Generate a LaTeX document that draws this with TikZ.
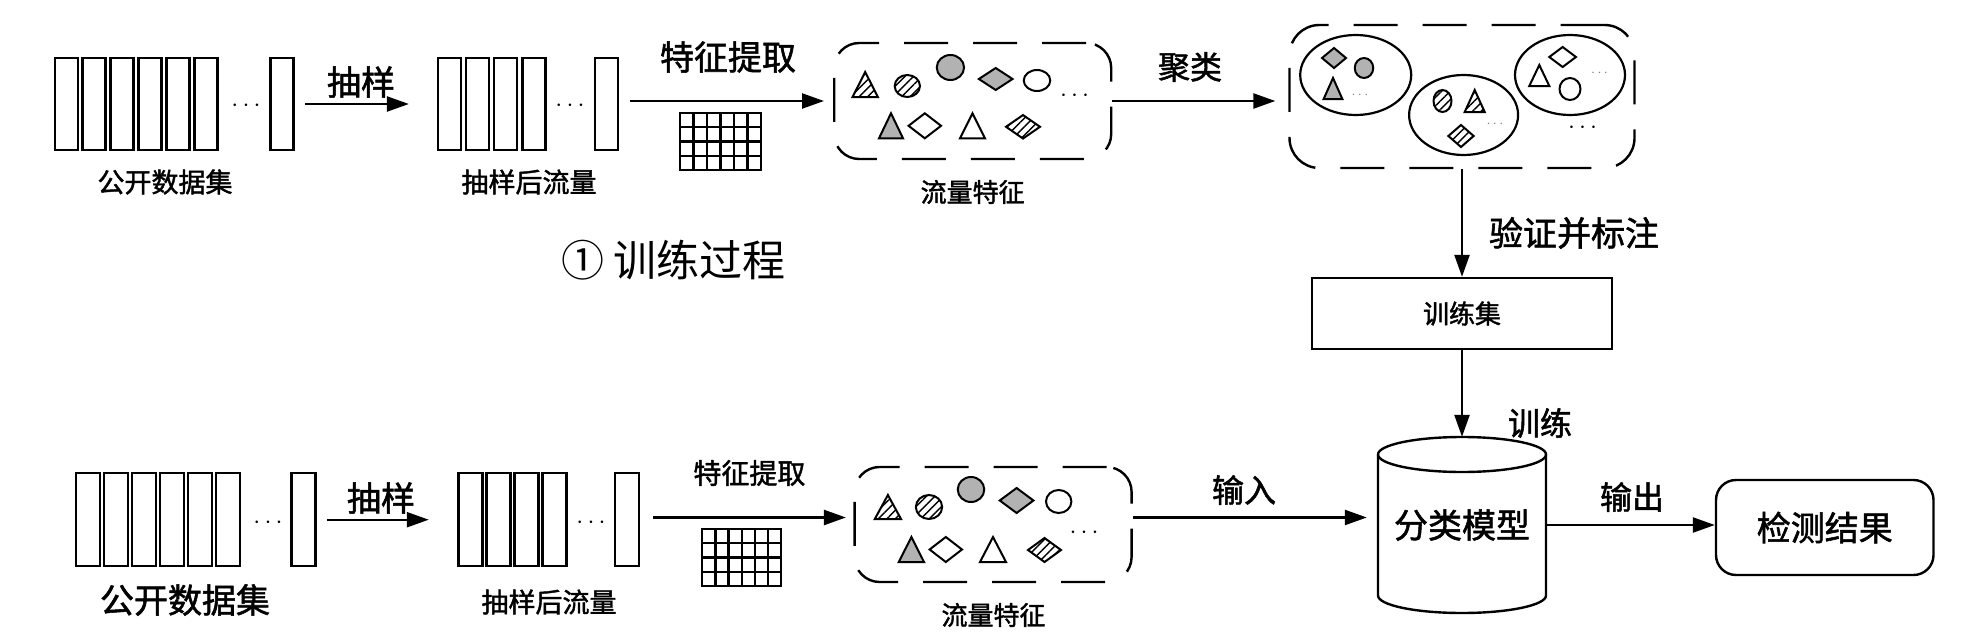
\documentclass[tikz,border=0pt]{standalone}
\usepackage{fontspec}
\setmainfont{Noto Sans CJK SC}[AutoFakeBold=1.6]
\usetikzlibrary{arrows.meta,patterns.meta,shapes.geometric}
\newcommand\fsz[1]{\fontsize{#1}{#1}\selectfont\bfseries}
% icons: [opts]{cx}{cy}{w}{h}
\newcommand\mytri[5][]{\draw[icon,#1] ({#2-#4/2},{#3+#5/2}) -- (#2,{#3-#5/2}) -- ({#2+#4/2},{#3+#5/2}) -- cycle;}
\newcommand\mydia[5][]{\draw[icon,#1] ({#2-#4/2},#3) -- (#2,{#3-#5/2}) -- ({#2+#4/2},#3) -- (#2,{#3+#5/2}) -- cycle;}
\newcommand\myell[5][]{\draw[icon,#1] (#2,#3) ellipse [x radius={#4/2}, y radius={#5/2}];}
\begin{document}
\begin{tikzpicture}[x=1pt,y=-1pt,
  lw/.style={line width=2.4pt},
  pkt/.style={draw, line width=2.5pt, minimum width=23pt, minimum height=92pt, inner sep=0pt},
  arr/.style={line width=2.4pt, -{Triangle[length=22pt,width=15pt]}},
  dbox/.style={draw, line width=2.4pt, rounded corners=25pt, dash pattern=on 44pt off 25pt, inner sep=0pt},
  icon/.style={line width=2pt, fill=white},
  gry/.style={fill=gray!60},
  hat/.style={pattern={Lines[angle=45,distance=6pt,line width=1.4pt]}},
  gl/.style={line width=2.2pt},
  dts/.style={inner sep=0pt, font=\fsz{26}},
  sdts/.style={inner sep=0pt, font=\fsz{15}, text=gray},
  lab/.style={inner sep=0pt},
]
\useasboundingbox (0,0) rectangle (1978,642);

% ===================== top row =====================
\foreach \i in {0,...,5} \node[pkt] (a\i) at ({66.3+27.9*\i},104) {};
\node[pkt] (a6) at (282.2,104) {};
\node[dts] (ad) at (246,106) {$\cdots$};
\foreach \i in {0,...,3} \node[pkt] (b\i) at ({449.3+28.2*\i},104) {};
\node[pkt] (b4) at (606.4,104) {};
\node[dts] (bd) at (570,106) {$\cdots$};
\node[lab, font=\fsz{27}] (ta) at (165,182) {公开数据集};
\node[lab, font=\fsz{27}] (tb) at (529,182) {抽样后流量};
\node[lab, font=\fsz{34}] (l1) at (361,82) {抽样};
\draw[arr] ([xshift=10.2pt]a6.east) -- ([xshift=-27.7pt]b0.west);

% grid
\foreach \i in {0,...,6} \draw[gl] ({680+13.5*\i},113) -- ({680+13.5*\i},170);
\foreach \j in {0,...,4} \draw[gl] (678.9,{113+14.25*\j}) -- (762.1,{113+14.25*\j});
\node[lab, font=\fsz{34}] (l2) at (728,57) {特征提取};

\node[dbox, minimum width=277pt, minimum height=116pt] (f1) at (972.7,101) {};
\draw[arr, shorten >=9pt] ([xshift=11.3pt]f1.west -| b4.east) -- (f1.west);
\mytri[hat]{865.2}{84.5}{25.3}{25}
\myell[hat]{907.3}{86}{25.3}{22}
\myell[gry]{950.4}{67.5}{27.3}{25}
\mydia[gry]{995.7}{79}{33.7}{22}
\myell{1037}{80.5}{26.5}{21}
\node[dts] (f1d) at (1074.5,96) {$\cdots$};
\mytri[gry]{891}{125.8}{24}{25}
\mydia{924.8}{125.8}{32.5}{25}
\mytri{972.5}{125.8}{25}{25}
\mydia[hat]{1023}{126.8}{34}{23.5}
\node[lab, font=\fsz{26}] (tf1) at (972.6,192) {流量特征};

% clusters
\node[dbox, rounded corners=30pt, minimum width=345pt, minimum height=143pt] (cl) at (1462,96.5) {};
\draw[arr] (f1.east) -- ([xshift=-13pt]f1.east -| cl.west);
\node[lab, font=\fsz{32}] (l3) at (1190,67) {聚类};
\node[draw, ellipse, line width=2.2pt, minimum width=111pt, minimum height=80pt, inner sep=0pt] (c1) at (1355.7,75) {};
\node[draw, ellipse, line width=2.2pt, minimum width=109pt, minimum height=80pt, inner sep=0pt] (c2) at (1463.6,115) {};
\node[draw, ellipse, line width=2.2pt, minimum width=110pt, minimum height=80pt, inner sep=0pt] (c3) at (1570,75) {};
\mydia[gry]{1334}{58}{24}{20}
\myell[gry]{1364}{68}{18.5}{20}
\mytri[gry]{1333}{88.5}{18.7}{21}
\node[sdts] (c1d) at (1360,95) {$\cdots$};
\myell[hat]{1442.5}{101}{18}{22}
\mytri[hat]{1474.7}{101}{20}{22}
\mydia[hat]{1461}{136}{25.3}{22}
\node[sdts] (c2d) at (1495,124) {$\cdots$};
\mydia{1562.6}{57}{26.7}{20}
\mytri{1539.3}{75.5}{20}{21}
\myell{1570}{89}{21}{22}
\node[sdts] (c3d) at (1599.6,73) {$\cdots$};
\node[dts] (cld) at (1582.5,128) {$\cdots$};

% training set and model
\node[draw, lw, minimum width=300pt, minimum height=71pt, font=\fsz{26}] (tr) at (1462,313.5) {训练集};
\draw[arr] (cl.south) -- (tr.north);
\node[lab, font=\fsz{34}] (l4) at (1574,233) {验证并标注};
\node[minimum width=168pt, minimum height=176pt, inner sep=0pt, font=\fsz{34}] (md) at (1462,525) {分类模型};
\draw[lw] (1462,454.5) ellipse [x radius=84, y radius=17.5];
\draw[lw] (1378,454.5) -- (1378,595.5) arc [start angle=180, end angle=0, x radius=84, y radius=17.5] -- (1546,454.5);
\draw[arr] (tr.south) -- (md.north);
\node[lab, font=\fsz{32}] (l5) at (1540,423) {训练};

\node[draw, lw, rounded corners=20pt, minimum width=217.5pt, minimum height=95pt, font=\fsz{34}] (rs) at (1824.75,527.5) {检测结果};
\draw[arr] (md.east) -- (md.east -| rs.west);
\node[lab, font=\fsz{32}] (l6) at (1632,497) {输出};

\node[anchor=west, inner sep=0pt, font={\fontsize{43}{43}\selectfont}] (ttl) at (561,260) {① 训练过程};

% ===================== bottom row =====================
\foreach \i in {0,...,5} \node[pkt, minimum width=24pt, minimum height=93pt] (d\i) at ({88+28*\i},519.7) {};
\node[pkt, minimum width=24pt, minimum height=93pt] (d6) at (303.3,519.7) {};
\node[dts] (dd) at (268,523) {$\cdots$};
\foreach \i in {0,...,3} \node[pkt, minimum width=24pt, minimum height=93pt] (e\i) at ({470.4+28.1*\i},519.7) {};
\node[pkt, minimum width=24pt, minimum height=93pt] (e4) at (627.1,519.7) {};
\node[dts] (ed) at (591,523) {$\cdots$};
\node[lab, font=\fsz{34}] (tc) at (185,600) {公开数据集};
\node[lab, font=\fsz{27}] (td) at (549,602) {抽样后流量};
\node[lab, font=\fsz{34}] (l7) at (381,498) {抽样};
\draw[arr] ([xshift=10pt]d6.east) -- ([xshift=-28.4pt]e0.west);

\foreach \i in {0,...,6} \draw[gl] ({702.3+13.12*\i},529) -- ({702.3+13.12*\i},586);
\foreach \j in {0,...,4} \draw[gl] (701.2,{529+14.25*\j}) -- (782.1,{529+14.25*\j});
\node[lab, font=\fsz{28}] (l8) at (749.4,473) {特征提取};

\node[dbox, minimum width=277pt, minimum height=115pt] (f2) at (993.1,524.5) {};
\draw[arr, shorten >=7.5pt] ([xshift=13pt,yshift=7pt]f2.west -| e4.east) -- ([yshift=7pt]f2.west);
\mytri[hat]{887.9}{507}{26.2}{24}
\myell[hat]{929}{507}{26.3}{24}
\myell[gry]{971}{489.5}{26.5}{25}
\mydia[gry]{1016.6}{500.5}{33.7}{25}
\myell{1058.7}{501.5}{25.4}{23}
\node[dts] (f2d) at (1084,533) {$\cdots$};
\mytri[gry]{911.4}{549.5}{25.2}{25}
\mydia{945.8}{549.5}{32.4}{25}
\mytri{993}{549.5}{26}{25}
\mydia[hat]{1044.5}{550}{33}{24}
\node[lab, font=\fsz{26}] (tf2) at (993.5,615) {流量特征};

\draw[arr, shorten >=11pt] ([yshift=7pt]f2.east) -- ([yshift=7pt]f2.east -| md.west);
\node[lab, font=\fsz{32}] (l9) at (1244,490) {输入};
\end{tikzpicture}
\end{document}
